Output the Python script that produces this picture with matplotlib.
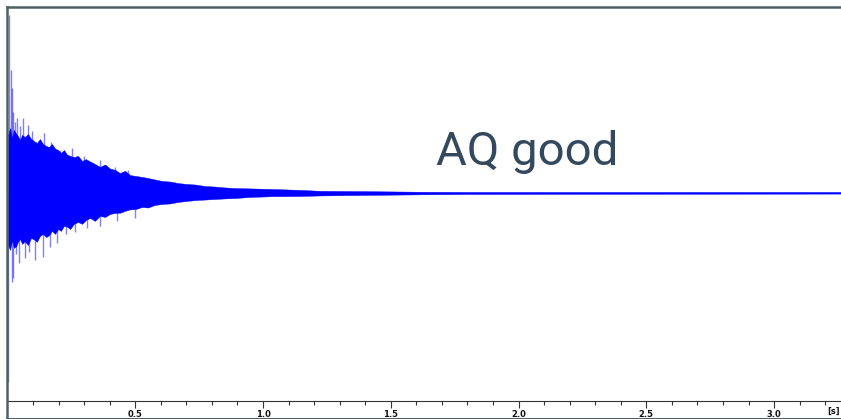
import matplotlib
matplotlib.use("Agg")
import matplotlib.pyplot as plt
from matplotlib.lines import Line2D

# decay envelope of the impulse response (time in s, amplitude normalised)
env_t = [0.002, 0.010, 0.018, 0.025, 0.033, 0.041, 0.049, 0.057, 0.068, 0.080,
         0.092, 0.104, 0.115, 0.127, 0.139, 0.151, 0.162, 0.174, 0.186, 0.198,
         0.209, 0.221, 0.233, 0.245, 0.260, 0.276, 0.292, 0.307, 0.323, 0.342,
         0.362, 0.382, 0.401, 0.421, 0.440, 0.460, 0.479, 0.503, 0.526, 0.550,
         0.577, 0.605, 0.636, 0.667, 0.699, 0.734, 0.773, 0.812, 0.851, 0.890,
         0.949, 1.035, 1.145, 1.223, 1.418, 1.614, 1.810, 3.262]
env_up = [0.311, 0.348, 0.295, 0.338, 0.320, 0.305, 0.284, 0.311, 0.300, 0.316,
          0.290, 0.278, 0.268, 0.289, 0.262, 0.252, 0.246, 0.262, 0.238, 0.230,
          0.214, 0.230, 0.205, 0.198, 0.192, 0.198, 0.171, 0.181, 0.168, 0.155,
          0.139, 0.152, 0.130, 0.123, 0.106, 0.118, 0.095, 0.090, 0.085, 0.079,
          0.071, 0.063, 0.060, 0.052, 0.047, 0.044, 0.036, 0.033, 0.028, 0.025,
          0.023, 0.020, 0.015, 0.010, 0.008, 0.005, 0.004, 0.004]
env_low = [-0.282, -0.308, -0.255, -0.297, -0.290, -0.265, -0.249, -0.276, -0.262, -0.282,
           -0.244, -0.252, -0.265, -0.233, -0.222, -0.239, -0.230, -0.206, -0.222, -0.196,
           -0.206, -0.179, -0.183, -0.196, -0.168, -0.158, -0.168, -0.147, -0.136, -0.152,
           -0.125, -0.131, -0.115, -0.109, -0.108, -0.098, -0.090, -0.088, -0.077, -0.080,
           -0.066, -0.061, -0.058, -0.050, -0.045, -0.040, -0.037, -0.034, -0.031, -0.029,
           -0.023, -0.019, -0.018, -0.015, -0.012, -0.009, -0.007, -0.005]

# single peaks sticking out of the envelope
peak_up_t = [0.006, 0.012, 0.016, 0.022, 0.030, 0.037, 0.050, 0.061, 0.080, 0.095,
             0.143, 0.170, 0.205, 0.252, 0.300, 0.362, 0.420, 0.472]
peak_up = [0.957, 0.661, 0.564, 0.434, 0.380, 0.402, 0.360, 0.402, 0.364, 0.330,
           0.321, 0.275, 0.230, 0.241, 0.195, 0.176, 0.140, 0.122]
peak_low_t = [0.002, 0.018, 0.022, 0.032, 0.045, 0.068, 0.085, 0.108, 0.139, 0.165,
              0.194, 0.230, 0.264, 0.310, 0.362, 0.430, 0.499]
peak_low = [-1.019, -0.481, -0.459, -0.330, -0.378, -0.352, -0.320, -0.362, -0.346, -0.290,
            -0.271, -0.225, -0.212, -0.190, -0.180, -0.150, -0.137]

major_ticks = [0.5, 1.0, 1.5, 2.0, 2.5, 3.0]
minor_ticks = [0.1 * i for i in range(1, 33)]

blue = "#0000ff"
frame_col = "#4e6264"

fig = plt.figure(figsize=(8.41, 4.19), dpi=100)
W, H = 841, 419
ax = fig.add_axes([7.5 / W, (H - 401) / H, (W - 7.5) / W, (401 - 7) / H])

ax.fill_between(env_t, env_low, env_up, color=blue, lw=0.3, edgecolor=blue)
ax.vlines(peak_up_t, 0, peak_up, color=blue, alpha=0.5, lw=1.0)
ax.vlines(peak_low_t, 0, peak_low, color=blue, alpha=0.5, lw=1.0)

ax.set_xlim(0, 3.262)
ax.set_ylim(-1.122, 1.0)
ax.set_yticks([])
for s in ["top", "right", "left"]:
    ax.spines[s].set_visible(False)
ax.spines["bottom"].set_color("#333333")
ax.spines["bottom"].set_linewidth(0.8)

ax.set_xticks(major_ticks)
ax.set_xticklabels([f"{v:.1f}" for v in major_ticks])
ax.set_xticks([m for m in minor_ticks if round(m, 1) not in major_ticks], minor=True)
ax.tick_params(axis="x", which="major", length=5, width=0.8, color="#333333",
               labelsize=6, pad=1.5, labelcolor="#111111")
ax.tick_params(axis="x", which="minor", length=3, width=0.8, color="#333333")
for lab in ax.get_xticklabels():
    lab.set_fontweight("bold")
ax.text(840 / W, 1 - 411 / H, "[s]", transform=fig.transFigure, fontsize=6, fontweight="bold",
        color="#111111", ha="right", va="center")

ax.text(527 / W, 1 - 152 / H, "AQ good", transform=fig.transFigure, fontsize=34,
        family=["Roboto", "DejaVu Sans"], color="#34495e", ha="center", va="center")

# outer frame: left, top and bottom border
fig.add_artist(Line2D([7 / W, 7 / W], [1 - 418 / H, 1 - 7 / H], color=frame_col, lw=1.8,
                      transform=fig.transFigure))
fig.add_artist(Line2D([7 / W, 1], [1 - 7 / H, 1 - 7 / H], color=frame_col, lw=1.8,
                      transform=fig.transFigure))
fig.add_artist(Line2D([7 / W, 1], [1 - 418.5 / H, 1 - 418.5 / H], color=frame_col, lw=1.5,
                      transform=fig.transFigure))

fig.savefig("out.png", dpi=100)
